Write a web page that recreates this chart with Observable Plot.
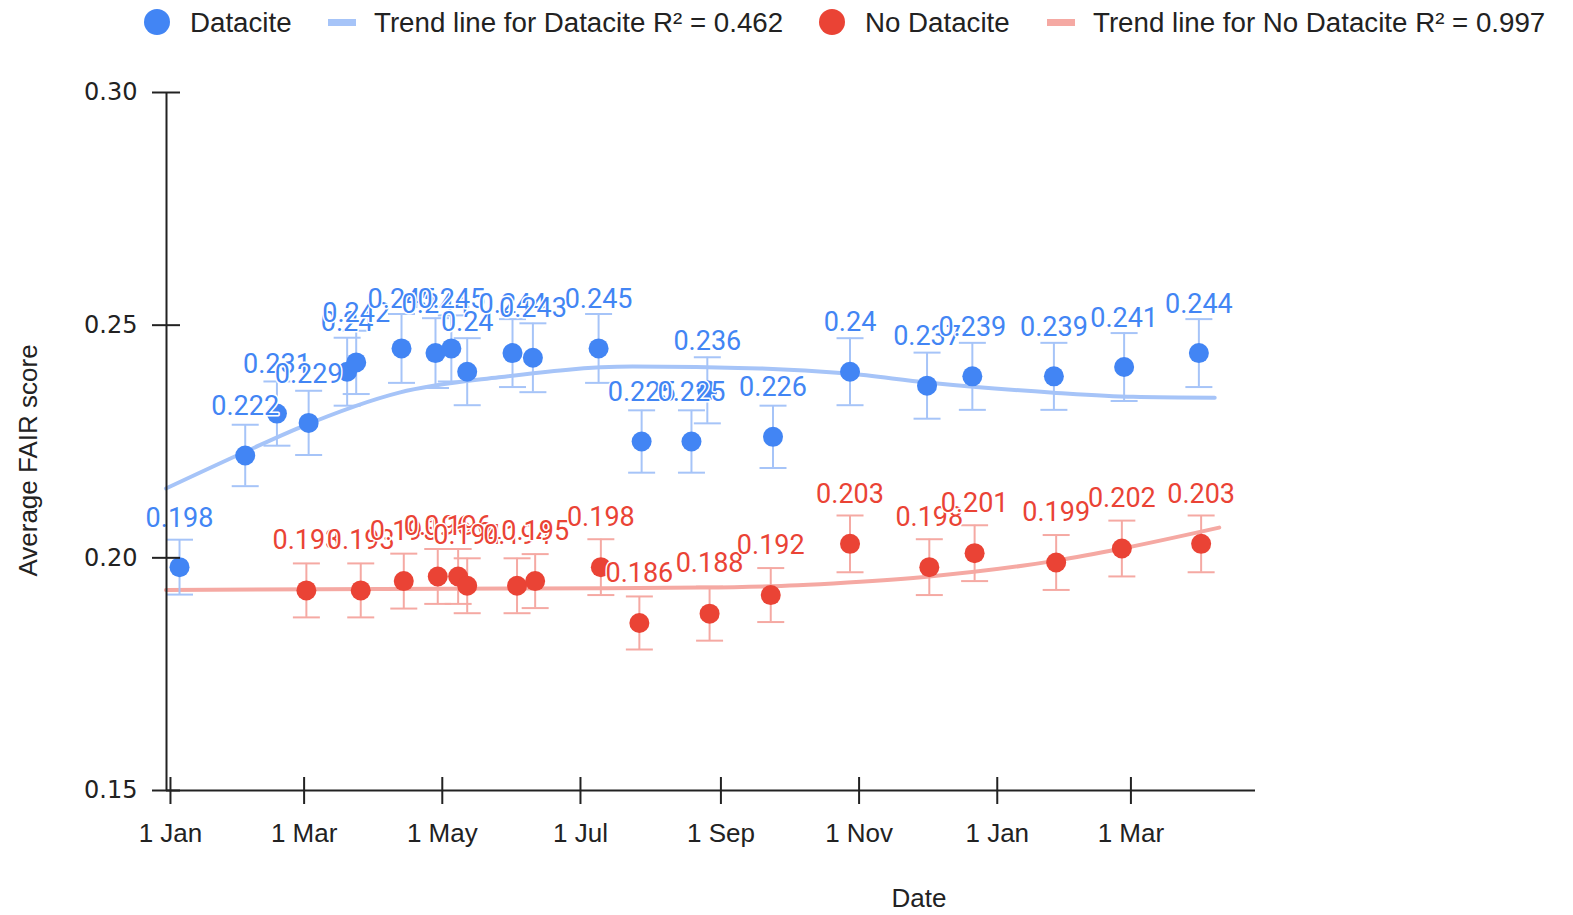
<!DOCTYPE html>
<html>
<head>
<meta charset="utf-8">
<script src="https://cdn.jsdelivr.net/npm/d3@7"></script>
<script src="https://cdn.jsdelivr.net/npm/@observablehq/plot@0.6"></script>
<style>
  html, body { margin: 0; padding: 0; background: #fff; }
  #legend { position: relative; width: 1573px; height: 45px; font-family: "Liberation Sans", Arial, sans-serif; font-size: 27.7px; color: #222; }
  #legend .it { position: absolute; top: 0; height: 45px; line-height: 45px; white-space: nowrap; }
  #legend .dot { position: absolute; top: 9px; width: 26px; height: 26px; border-radius: 50%; }
  #legend .sw { position: absolute; top: 19px; width: 28px; height: 7px; }
</style>
</head>
<body>
<div id="legend"></div>
<div id="chart"></div>
<script>
// ---- data ----
const dcDates = ["2022-01-05","2022-02-03","2022-02-17","2022-03-03","2022-03-20","2022-03-24","2022-04-13","2022-04-28","2022-05-05","2022-05-12","2022-06-01","2022-06-10","2022-07-09","2022-07-28","2022-08-19","2022-08-26","2022-09-24","2022-10-28","2022-12-01","2022-12-21","2023-01-26","2023-02-26","2023-03-31"];
const dcValues = [0.198,0.222,0.231,0.229,0.24,0.242,0.245,0.244,0.245,0.24,0.244,0.243,0.245,0.225,0.225,0.236,0.226,0.24,0.237,0.239,0.239,0.241,0.244];
const dcErrors = [0.0059,0.0066,0.0069,0.0069,0.0073,0.0068,0.0074,0.0075,0.0071,0.0072,0.0073,0.0074,0.0074,0.0067,0.0067,0.0071,0.0067,0.0072,0.0071,0.0072,0.0072,0.0073,0.0073];

const ndDates = ["2022-03-02","2022-03-26","2022-04-14","2022-04-29","2022-05-08","2022-05-12","2022-06-03","2022-06-11","2022-07-10","2022-07-27","2022-08-27","2022-09-23","2022-10-28","2022-12-02","2022-12-22","2023-01-27","2023-02-25","2023-04-01"];
const ndValues = [0.193,0.193,0.195,0.196,0.196,0.194,0.194,0.195,0.198,0.186,0.188,0.192,0.203,0.198,0.201,0.199,0.202,0.203];
const ndErrors = [0.0058,0.0058,0.0059,0.0059,0.0059,0.0059,0.0059,0.0058,0.006,0.0057,0.0058,0.0058,0.0061,0.006,0.006,0.0059,0.006,0.0061];

const dcTrendDates = ["2021-12-30","2022-02-03","2022-02-27","2022-04-12","2022-05-26","2022-07-24","2022-09-18","2022-10-27","2022-12-01","2023-01-26","2023-03-02","2023-04-07"];
const dcTrendValues = [0.2149,0.2228,0.2280,0.2355,0.2388,0.2411,0.2407,0.2396,0.2377,0.2355,0.2346,0.2344];
const ndTrendDates = ["2021-12-30","2022-06-08","2022-08-23","2022-10-05","2022-10-27","2022-12-02","2023-01-27","2023-02-25","2023-04-09"];
const ndTrendValues = [0.1931,0.1934,0.1936,0.1941,0.1947,0.1960,0.1994,0.2020,0.2065];

const xTicks = ["2022-01-01","2022-03-01","2022-05-01","2022-07-01","2022-09-01","2022-11-01","2023-01-01","2023-03-01"];
const yTicks = [0.15, 0.20, 0.25, 0.30];

const seriesNames = ["Datacite", "Trend line for Datacite R² = 0.462", "No Datacite", "Trend line for No Datacite R² = 0.997"];

// ---- styles ----
const BLUE = "#4285f4", BLUE_L = "#a6c4f8";
const RED = "#ea4335", RED_L = "#f5a9a3";

const toRows = (dates, vals, errs) => dates.map((d, i) => ({date: new Date(d), v: vals[i], lo: vals[i] - errs[i], hi: vals[i] + errs[i]}));
const dc = toRows(dcDates, dcValues, dcErrors);
const nd = toRows(ndDates, ndValues, ndErrors);
const dcTrend = dcTrendDates.map((d, i) => ({date: new Date(d), v: dcTrendValues[i]}));
const ndTrend = ndTrendDates.map((d, i) => ({date: new Date(d), v: ndTrendValues[i]}));
const xTickDates = xTicks.map(d => new Date(d));

// legend
const legend = document.getElementById("legend");
const legendItems = [
  {kind: "dot", color: BLUE, left: 144},
  {kind: "text", text: seriesNames[0], left: 190},
  {kind: "sw", color: BLUE_L, left: 328},
  {kind: "text", text: seriesNames[1], left: 374},
  {kind: "dot", color: RED, left: 819},
  {kind: "text", text: seriesNames[2], left: 865},
  {kind: "sw", color: RED_L, left: 1047},
  {kind: "text", text: seriesNames[3], left: 1093}
];
for (const it of legendItems) {
  const el = document.createElement("span");
  if (it.kind === "text") { el.className = "it"; el.textContent = it.text; }
  else { el.className = it.kind; el.style.background = it.color; }
  el.style.left = it.left + "px";
  legend.appendChild(el);
}

const cap = {draw(ctx) { ctx.moveTo(-13.5, 0); ctx.lineTo(13.5, 0); }};
const labelFont = {fontFamily: "Roboto, 'Noto Sans', sans-serif", fontSize: 27};
const axisFont = "'Liberation Sans', Arial, sans-serif";

function errorMarks(data, color) {
  return [
    Plot.ruleX(data, {x: "date", y1: "lo", y2: "hi", stroke: color, strokeWidth: 2}),
    Plot.dot(data, {x: "date", y: "lo", symbol: cap, r: 5, stroke: color, strokeWidth: 2, fill: "none"}),
    Plot.dot(data, {x: "date", y: "hi", symbol: cap, r: 5, stroke: color, strokeWidth: 2, fill: "none"})
  ];
}

const x0 = new Date("2021-12-30T06:00:00Z");
const x1 = new Date("2023-04-25T00:00:00Z");

const chart = Plot.plot({
  width: 1573,
  height: 870,
  marginLeft: 166,
  marginRight: 318,
  marginTop: 47,
  marginBottom: 125,
  style: {background: "white", overflow: "visible"},
  x: {type: "utc", domain: [x0, x1], axis: null},
  y: {domain: [0.15, 0.30], axis: null},
  marks: [
    Plot.line(dcTrend, {x: "date", y: "v", stroke: BLUE_L, strokeWidth: 4, curve: "monotone-x"}),
    Plot.line(ndTrend, {x: "date", y: "v", stroke: RED_L, strokeWidth: 4, curve: "monotone-x"}),
    ...errorMarks(dc, BLUE_L),
    ...errorMarks(nd, RED_L),
    Plot.dot(dc, {x: "date", y: "v", r: 10, fill: BLUE}),
    Plot.dot(nd, {x: "date", y: "v", r: 10, fill: RED}),
    Plot.text(dc, {x: "date", y: "v", text: d => String(d.v), dy: -49, lineAnchor: "middle", fill: BLUE, stroke: "white", strokeWidth: 3, ...labelFont}),
    Plot.text(nd, {x: "date", y: "v", text: d => String(d.v), dy: -50, lineAnchor: "middle", fill: RED, stroke: "white", strokeWidth: 3, ...labelFont}),
    Plot.ruleX([x0], {stroke: "#222", strokeWidth: 2}),
    Plot.ruleY([0.15], {stroke: "#222", strokeWidth: 2}),
    // tick marks crossing the axis lines
    Plot.axisY(yTicks, {anchor: "left", tickSize: 28, dx: 14, tickFormat: () => "", label: null, stroke: "#222", strokeWidth: 2}),
    Plot.axisY(yTicks, {anchor: "left", tickSize: 0, tickPadding: 29, tickFormat: d3.format(".2f"), label: null, fontFamily: "'DejaVu Sans', sans-serif", fontSize: 24, fill: "#222"}),
    Plot.axisX(xTickDates, {anchor: "bottom", tickSize: 27, dy: -13, tickFormat: () => "", label: null, stroke: "#222", strokeWidth: 2}),
    Plot.axisX(xTickDates, {anchor: "bottom", tickSize: 0, tickPadding: 33, tickFormat: d3.utcFormat("%-d %b"), label: null, fontFamily: axisFont, fontSize: 26, fill: "#222"}),
    Plot.text(["Average FAIR score"], {frameAnchor: "left", textAnchor: "middle", lineAnchor: "middle", rotate: -90, dx: -138, dy: 19, fontFamily: axisFont, fontSize: 26, fill: "#222"}),
    Plot.text(["Date"], {frameAnchor: "bottom", lineAnchor: "middle", dx: 208, dy: 108, fontFamily: axisFont, fontSize: 26, fill: "#222"})
  ]
});
document.getElementById("chart").appendChild(chart);
</script>
</body>
</html>
